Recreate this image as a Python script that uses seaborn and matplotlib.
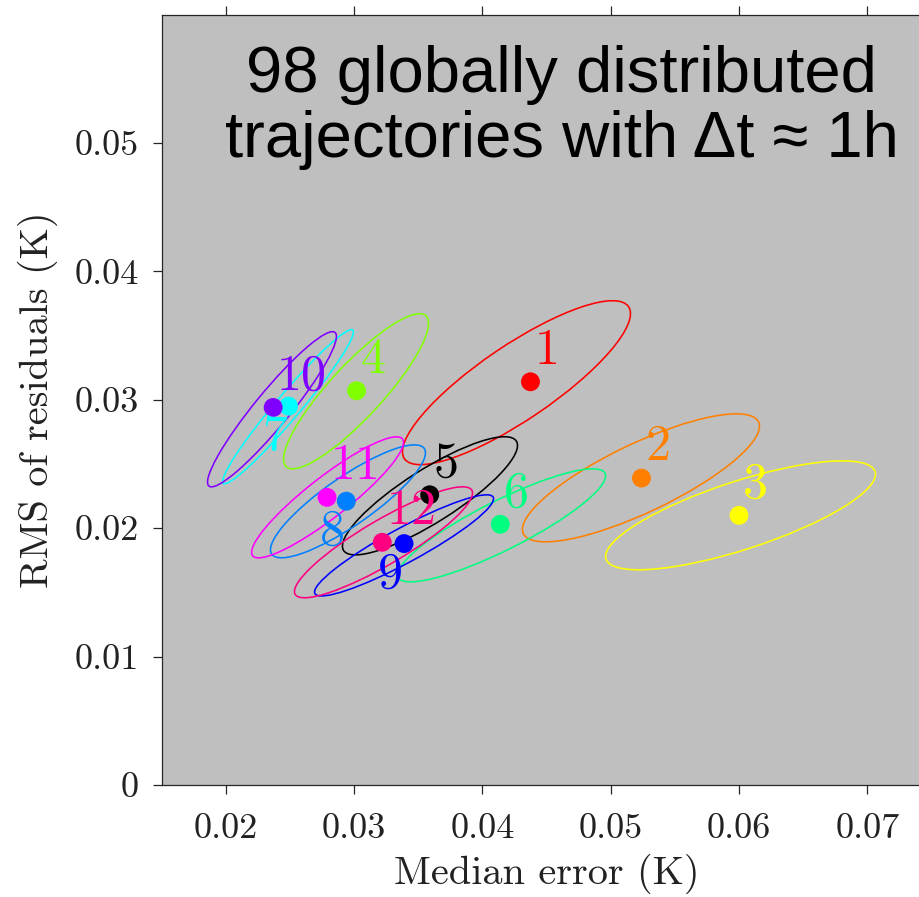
import matplotlib
matplotlib.use("Agg")
import matplotlib.pyplot as plt
from matplotlib.patches import Ellipse
import numpy as np
import pandas as pd
import seaborn as sns

# ---- data ----
traj_ids = ["1", "2", "3", "4", "5", "6", "7", "8", "9", "10", "11", "12"]
median_error = [0.04375, 0.0524, 0.0600, 0.0302, 0.0359, 0.0414,
                0.0249, 0.0294, 0.0339, 0.0237, 0.0279, 0.0322]
rms_residuals = [0.0314, 0.0239, 0.0210, 0.0307, 0.0226, 0.0203,
                 0.0295, 0.0221, 0.0188, 0.0294, 0.0224, 0.0189]
colors = ["#FF0000", "#FF8000", "#FFFF00", "#80FF00", "#000000", "#00FF80",
          "#00FFFF", "#0080FF", "#0000FF", "#8000FF", "#FF00FF", "#FF0080"]

# ellipse centres, full widths / heights (K) and angle (deg)
ell_cx = [0.04266, 0.05236, 0.06012, 0.03016, 0.03592, 0.04150,
          0.02486, 0.02953, 0.03390, 0.02361, 0.02794, 0.03230]
ell_cy = [0.03133, 0.02392, 0.02100, 0.03066, 0.02252, 0.02022,
          0.02946, 0.02209, 0.01866, 0.02926, 0.02240, 0.01890]
ell_w = [0.02110, 0.02029, 0.02205, 0.01602, 0.01593, 0.01805,
         0.01563, 0.01446, 0.01579, 0.01548, 0.01480, 0.01598]
ell_h = [0.00580, 0.00538, 0.00531, 0.00411, 0.00413, 0.00383,
         0.00192, 0.00377, 0.00270, 0.00271, 0.00316, 0.00346]
ell_angle = [34.1, 25.4, 18.0, 47.2, 32.3, 26.7,
             49.8, 34.7, 28.4, 50.6, 37.9, 30.5]

# label placement: upper-right or lower-left of the point
label_side = ["ur", "ur", "ur", "ur", "ur", "ur",
              "ll", "ll", "ll", "ur", "ur", "ur"]

x_ticks = [0.02, 0.03, 0.04, 0.05, 0.06, 0.07]
x_ticklabels = ["0.02", "0.03", "0.04", "0.05", "0.06", "0.07"]
y_ticks = [0, 0.01, 0.02, 0.03, 0.04, 0.05]
y_ticklabels = ["0", "0.01", "0.02", "0.03", "0.04", "0.05"]

title_lines = ["98 globally distributed", "trajectories with \u0394t \u2248 1h"]

df = pd.DataFrame({"traj": traj_ids, "median": median_error, "rms": rms_residuals})
palette = dict(zip(traj_ids, colors))

# ---- figure ----
sns.set_style("white")
plt.rcParams["axes.formatter.use_mathtext"] = True
fig = plt.figure(figsize=(9.19, 8.97), dpi=100)
ax = fig.add_axes([161.5 / 919, (897 - 785) / 897, 770 / 919, 770.5 / 897])
ax.set_facecolor("#BFBFBF")

serif = "cmr10"
axcol = "#262626"

for i in range(len(traj_ids)):
    e = Ellipse((ell_cx[i], ell_cy[i]), ell_w[i], ell_h[i], angle=ell_angle[i],
                fill=False, edgecolor=colors[i], linewidth=1.15, zorder=2)
    ax.add_patch(e)

sns.scatterplot(data=df, x="median", y="rms", hue="traj", palette=palette,
                s=185, edgecolor="none", linewidth=0, legend=False, ax=ax, zorder=3)

for i, t in enumerate(traj_ids):
    if label_side[i] == "ur":
        ax.annotate(t, (median_error[i], rms_residuals[i]), xytext=(4, 18),
                    textcoords="offset pixels", ha="left", va="baseline",
                    color=colors[i], fontsize=36, fontfamily=serif, zorder=4)
    else:
        ax.annotate(t, (median_error[i], rms_residuals[i]), xytext=(-1, -8),
                    textcoords="offset pixels", ha="right", va="top",
                    color=colors[i], fontsize=36, fontfamily=serif, zorder=4)

ax.set_xlim(0.015, 0.075)
ax.set_ylim(0, 0.06)

ax.set_xticks(x_ticks)
ax.set_xticklabels(x_ticklabels, fontfamily=serif, fontsize=26)
ax.set_yticks(y_ticks)
ax.set_yticklabels(y_ticklabels, fontfamily=serif, fontsize=26)
ax.tick_params(axis="x", direction="out", length=6.5, width=0.9, color=axcol,
               top=True, bottom=True, labelcolor="#222222", pad=14)
ax.tick_params(axis="y", direction="out", length=6.5, width=0.9, color=axcol,
               left=True, right=True, labelcolor="#222222", pad=10)

for s in ax.spines.values():
    s.set_visible(True)
    s.set_color(axcol)
    s.set_linewidth(0.9)

ax.set_xlabel("Median error (K)", fontfamily=serif, fontsize=29, color="#222222", labelpad=6)
ax.set_ylabel("RMS of residuals (K)", fontfamily=serif, fontsize=29, color="#222222", labelpad=12)

ax.text(0.52, 0.90, title_lines[0], transform=ax.transAxes, ha="center", va="baseline",
        fontsize=47, fontfamily=["Liberation Sans", "DejaVu Sans"], color="black")
ax.text(0.52, 0.8156, title_lines[1], transform=ax.transAxes, ha="center", va="baseline",
        fontsize=47, fontfamily=["Liberation Sans", "DejaVu Sans"], color="black")

fig.savefig("out.png", dpi=100)
